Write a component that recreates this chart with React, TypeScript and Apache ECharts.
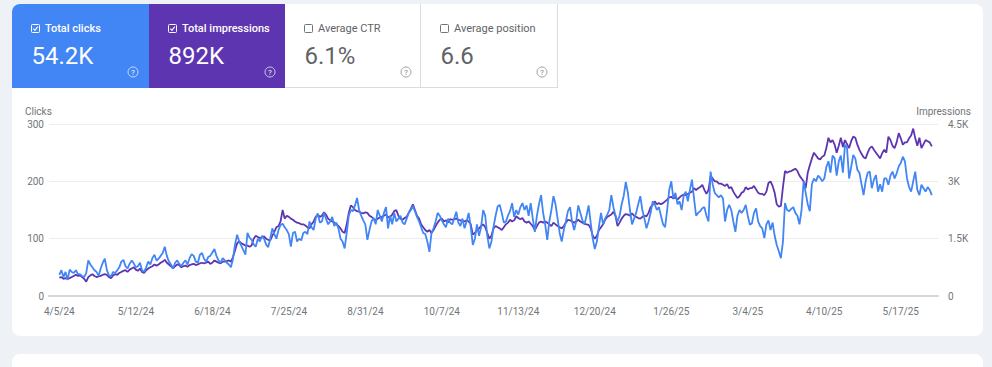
import React, { useEffect, useRef } from "react";
import * as echarts from "echarts";

// Daily clicks (left axis), starting 4/5/24
const clicks: number[] = [
  37, 45, 33, 42, 28, 46, 42, 40, 45, 38,
  38, 35, 33, 40, 62, 55, 50, 45, 42, 35,
  48, 58, 65, 45, 36, 34, 42, 40, 45, 50,
  60, 63, 52, 48, 56, 62, 57, 50, 52, 58,
  45, 42, 50, 60, 55, 66, 72, 62, 65, 70,
  75, 86, 70, 60, 55, 48, 58, 62, 56, 52,
  58, 62, 55, 66, 73, 70, 60, 58, 72, 75,
  65, 60, 68, 70, 76, 82, 70, 62, 58, 66,
  62, 58, 55, 50, 65, 90, 107, 95, 88, 80,
  72, 110, 102, 98, 90, 86, 100, 95, 105, 100,
  90, 85, 100, 118, 108, 100, 115, 124, 126, 120,
  115, 108, 86, 110, 112, 95, 100, 97, 110, 112,
  108, 130, 120, 115, 135, 144, 128, 130, 145, 135,
  125, 130, 138, 122, 128, 118, 100, 95, 83, 110,
  140, 150, 148, 158, 171, 150, 140, 132, 125, 98,
  115, 130, 136, 125, 150, 140, 130, 145, 155, 118,
  140, 125, 145, 130, 135, 140, 128, 125, 135, 145,
  150, 157, 148, 138, 130, 120, 110, 108, 95, 77,
  110, 118, 130, 145, 140, 132, 125, 120, 135, 128,
  125, 135, 147, 128, 122, 135, 118, 130, 145, 120,
  89, 100, 125, 105, 120, 150, 140, 105, 83, 95,
  120, 140, 156, 159, 145, 128, 130, 140, 148, 162,
  138, 150, 142, 155, 162, 150, 158, 140, 162, 135,
  112, 140, 160, 176, 145, 125, 98, 130, 150, 174,
  160, 135, 110, 95, 115, 130, 148, 155, 130, 115,
  130, 158, 145, 132, 125, 140, 158, 128, 100, 82,
  95, 121, 145, 125, 135, 142, 150, 176, 155, 140,
  130, 140, 160, 175, 199, 180, 150, 125, 135, 145,
  160, 174, 150, 135, 118, 130, 145, 165, 160, 150,
  155, 140, 125, 120, 150, 185, 200, 170, 180, 160,
  165, 150, 175, 182, 165, 185, 203, 170, 140, 145,
  148, 153, 155, 140, 130, 217, 195, 180, 176, 172,
  176, 170, 130, 150, 159, 150, 130, 112, 140, 150,
  145, 150, 159, 140, 124, 127, 145, 153, 130, 122,
  118, 101, 125, 132, 115, 128, 105, 89, 78, 66,
  95, 162, 150, 148, 152, 155, 145, 140, 125, 150,
  200, 180, 160, 148, 195, 205, 200, 210, 206, 200,
  205, 225, 235, 215, 245, 240, 210, 235, 245, 215,
  264, 258, 205, 225, 246, 240, 220, 215, 195, 176,
  200, 215, 217, 188, 203, 211, 182, 195, 182, 205,
  205, 194, 210, 217, 205, 214, 226, 232, 243, 235,
  205, 190, 182, 200, 217, 185, 176, 194, 188, 182, 190, 185, 176,
];

// Daily impressions (right axis)
const impressions: number[] = [
  480, 495, 450, 465, 450, 465, 495, 525, 555, 525,
  540, 495, 450, 375, 495, 540, 570, 525, 495, 510,
  525, 555, 570, 555, 495, 465, 540, 570, 555, 600,
  630, 660, 675, 630, 690, 720, 750, 690, 660, 720,
  630, 600, 675, 720, 750, 780, 825, 795, 825, 870,
  900, 945, 870, 825, 780, 720, 780, 825, 810, 750,
  780, 795, 765, 810, 825, 840, 810, 825, 855, 870,
  855, 870, 900, 840, 870, 930, 900, 870, 855, 900,
  900, 915, 930, 900, 1020, 1200, 1380, 1425, 1380, 1350,
  1320, 1320, 1290, 1320, 1500, 1575, 1545, 1515, 1530, 1560,
  1500, 1470, 1455, 1575, 1680, 1800, 1830, 1950, 2250, 2025,
  2100, 2070, 2025, 1995, 1950, 1920, 1905, 1875, 1875, 1845,
  1800, 1770, 1875, 1950, 2070, 2130, 2070, 2100, 2190, 2130,
  2025, 1980, 1950, 1920, 1875, 1830, 1770, 1680, 1650, 1875,
  2175, 2370, 2325, 2250, 2220, 2205, 2175, 2160, 2190, 2175,
  2100, 2070, 2025, 1980, 2025, 2055, 2070, 2100, 2130, 2055,
  2070, 2130, 2220, 2250, 2100, 2025, 1995, 2040, 2070, 2175,
  2280, 2400, 2250, 2100, 2025, 1875, 1800, 1725, 1680, 1725,
  1650, 1725, 1830, 1920, 1995, 2025, 1950, 1980, 1920, 2010,
  1995, 2010, 2025, 1995, 1980, 1965, 1950, 1980, 1950, 1875,
  1605, 1650, 1725, 1770, 1830, 1875, 1800, 1650, 1500, 1575,
  1770, 1830, 1800, 1770, 1725, 1800, 1875, 1920, 1995, 1950,
  1980, 2085, 2040, 2010, 2040, 1950, 1920, 1950, 1890, 1830,
  1725, 1830, 1920, 1950, 1920, 1950, 1920, 1875, 1830, 1920,
  1875, 1830, 1800, 1770, 1830, 1920, 1995, 1980, 1950, 1920,
  1950, 1995, 1950, 1920, 1890, 1875, 1860, 1770, 1575, 1500,
  1575, 1725, 1800, 1875, 1995, 2070, 2100, 2130, 2205, 2100,
  1830, 1920, 2025, 2100, 2145, 2130, 2100, 2160, 2100, 2070,
  2040, 2025, 2070, 2100, 2085, 2175, 2325, 2385, 2475, 2400,
  2430, 2400, 2430, 2475, 2520, 2580, 2595, 2550, 2580, 2520,
  2580, 2625, 2655, 2640, 2670, 2700, 2730, 2820, 2775, 2820,
  2850, 2910, 2775, 2670, 2775, 3135, 3075, 3000, 3000, 2940,
  2940, 2910, 2880, 2925, 2820, 2850, 2730, 2640, 2565, 2610,
  2700, 2730, 2850, 2790, 2820, 2820, 2880, 2790, 2700, 2670,
  2670, 2640, 2730, 2955, 3000, 2880, 2700, 2400, 2340, 2355,
  2850, 3270, 3225, 3255, 3270, 3300, 3330, 3270, 3150, 3075,
  3000, 2820, 3225, 3420, 3600, 3750, 3675, 3600, 3570, 3645,
  3675, 3870, 4140, 4020, 4080, 3960, 3750, 3930, 4140, 3900,
  4080, 3975, 3870, 4050, 4170, 4140, 3960, 3825, 3720, 3630,
  3600, 3750, 3870, 3915, 3825, 3750, 3675, 3600, 3735, 3825,
  3750, 4170, 4080, 3930, 3870, 4020, 4260, 4125, 3960, 4020,
  4020, 4125, 4200, 4380, 4125, 3930, 4140, 3870, 3975, 4080, 4050, 4020, 3915,
];

// X tick labels and their day offsets from 4/5/24
const tickLabels: string[] = [
  "4/5/24", "5/12/24", "6/18/24", "7/25/24", "8/31/24", "10/7/24",
  "11/13/24", "12/20/24", "1/26/25", "3/4/25", "4/10/25", "5/17/25",
];
const tickDays: number[] = [0, 37, 74, 111, 148, 185, 222, 259, 296, 333, 370, 407];

// Metric tiles
const metricLabels: string[] = ["Total clicks", "Total impressions", "Average CTR", "Average position"];
const metricValues: string[] = ["54.2K", "892K", "6.1%", "6.6"];

const BLUE = "#4285f4";
const PURPLE = "#5e35b1";
const FONT = "Roboto";

function buildTiles() {
  const els: any[] = [];
  const lefts = [12, 149, 285, 421];
  const widths = [137, 136, 136, 137];
  const fills = [BLUE, PURPLE, "#ffffff", "#ffffff"];
  const top = 4;
  const h = 84;
  for (let i = 0; i < 4; i++) {
    const x = lefts[i];
    const colored = i < 2;
    const fg = colored ? "#ffffff" : "#5f6368";
    els.push({
      type: "rect",
      shape: { x, y: top, width: widths[i], height: h, r: i === 0 ? [8, 0, 0, 0] : 0 },
      style: { fill: fills[i] },
    });
    if (!colored) {
      els.push({
        type: "line",
        shape: { x1: x + widths[i] - 0.5, y1: top, x2: x + widths[i] - 0.5, y2: top + h },
        style: { stroke: "#dadce0", lineWidth: 1 },
      });
      els.push({
        type: "line",
        shape: { x1: x, y1: top + h - 0.5, x2: x + widths[i], y2: top + h - 0.5 },
        style: { stroke: "#dadce0", lineWidth: 1 },
      });
    }
    // checkbox
    const cx = x + 19;
    els.push({
      type: "rect",
      shape: { x: cx + 0.5, y: 24.5, width: 8, height: 8, r: 1 },
      style: { fill: "none", stroke: colored ? "#ffffff" : "#70757a", lineWidth: 1 },
    });
    if (colored) {
      els.push({
        type: "polyline",
        shape: { points: [[cx + 2.3, 28.6], [cx + 3.9, 30.3], [cx + 6.8, 26.6]] },
        style: { fill: "none", stroke: "#ffffff", lineWidth: 1.1 },
      });
    }
    els.push({
      type: "text",
      x: x + 33,
      y: 28.5,
      style: {
        text: metricLabels[i],
        fill: fg,
        fontSize: 11,
        fontFamily: FONT,
        fontWeight: colored ? 500 : 400,
        textAlign: "left",
        textVerticalAlign: "middle",
      },
    });
    els.push({
      type: "text",
      x: x + 19.5,
      y: 56,
      style: {
        text: metricValues[i],
        fill: fg,
        fontSize: 24,
        fontFamily: FONT,
        fontWeight: 400,
        textAlign: "left",
        textVerticalAlign: "middle",
      },
    });
    // help icon
    const hx = x + 121;
    els.push({
      type: "circle",
      shape: { cx: hx, cy: 72, r: 5 },
      style: { fill: "none", stroke: colored ? "rgba(255,255,255,0.7)" : "#9aa0a6", lineWidth: 1 },
    });
    els.push({
      type: "text",
      x: hx,
      y: 72.4,
      style: {
        text: "?",
        fill: colored ? "rgba(255,255,255,0.8)" : "#9aa0a6",
        fontSize: 8,
        fontFamily: FONT,
        fontWeight: 500,
        textAlign: "center",
        textVerticalAlign: "middle",
      },
    });
  }
  els.push({
    type: "text",
    x: 25,
    y: 111,
    style: { text: "Clicks", fill: "#70757a", fontSize: 10, fontFamily: FONT, textAlign: "left", textVerticalAlign: "middle" },
  });
  els.push({
    type: "text",
    x: 971,
    y: 111,
    style: { text: "Impressions", fill: "#70757a", fontSize: 10, fontFamily: FONT, textAlign: "right", textVerticalAlign: "middle" },
  });
  return els;
}

export default function App() {
  const ref = useRef<HTMLDivElement>(null);
  useEffect(() => {
    if (!ref.current) return;
    const chart = echarts.init(ref.current, undefined, { renderer: "svg" });
    const axisLabelColor = "#70757a";
    chart.setOption({
      animation: false,
      textStyle: { fontFamily: FONT },
      grid: { left: 49, right: 54, top: 124, bottom: 71, containLabel: false },
      xAxis: {
        type: "value",
        min: -5,
        max: 425,
        splitLine: { show: false },
        axisTick: { show: false },
        axisLine: { show: true, lineStyle: { color: "#d6d6d6", width: 2 } },
        axisLabel: {
          customValues: tickDays,
          formatter: (v: number) => {
            const k = tickDays.indexOf(Math.round(v));
            return k >= 0 ? tickLabels[k] : "";
          },
          color: axisLabelColor,
          fontSize: 10,
          fontFamily: FONT,
          margin: 10,
        },
      },
      yAxis: [
        {
          type: "value",
          min: 0,
          max: 300,
          interval: 100,
          axisLine: { show: false },
          axisTick: { show: false },
          splitLine: { lineStyle: { color: "#ededed", width: 1 } },
          axisLabel: { color: axisLabelColor, fontSize: 10, fontFamily: FONT, margin: 5 },
        },
        {
          type: "value",
          min: 0,
          max: 4500,
          interval: 1500,
          position: "right",
          axisLine: { show: false },
          axisTick: { show: false },
          splitLine: { show: false },
          axisLabel: {
            color: axisLabelColor,
            fontSize: 10,
            fontFamily: FONT,
            margin: 10,
            formatter: (v: number) => (v === 0 ? "0" : v / 1000 + "K"),
          },
        },
      ],
      series: [
        {
          name: "Impressions",
          type: "line",
          yAxisIndex: 1,
          data: impressions.map((v, i) => [i, v]),
          showSymbol: false,
          symbol: "none",
          lineStyle: { color: PURPLE, width: 1.8 },
          itemStyle: { color: PURPLE },
        },
        {
          name: "Clicks",
          type: "line",
          yAxisIndex: 0,
          data: clicks.map((v, i) => [i, v]),
          showSymbol: false,
          symbol: "none",
          lineStyle: { color: BLUE, width: 1.8 },
          itemStyle: { color: BLUE },
        },
      ],
      graphic: buildTiles(),
    });
    return () => chart.dispose();
  }, []);

  return (
    <div style={{ position: "fixed", left: 0, top: 0, width: 992, height: 367, background: "#eef1f6", overflow: "hidden" }}>
      <div style={{ position: "absolute", left: 12, top: 4, width: 971, height: 332, background: "#ffffff", borderRadius: 8 }} />
      <div style={{ position: "absolute", left: 12, top: 354, width: 971, height: 40, background: "#ffffff", borderRadius: 8 }} />
      <div ref={ref} style={{ position: "absolute", left: 0, top: 0, width: 992, height: 367 }} />
    </div>
  );
}
